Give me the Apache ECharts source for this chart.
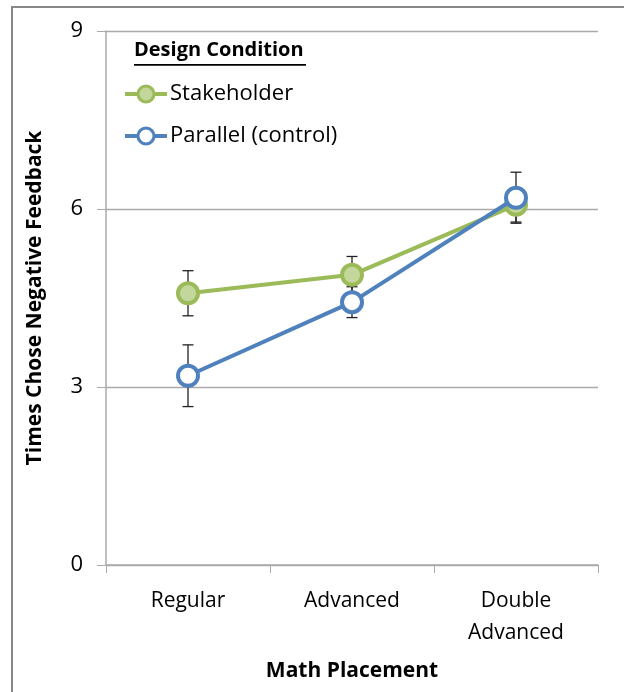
<!DOCTYPE html>
<html><head><meta charset="utf-8">
<script src="https://cdn.jsdelivr.net/npm/echarts@6/dist/echarts.min.js"></script>
<style>html,body{margin:0;padding:0;background:#fff}#c{width:624px;height:692px}</style>
</head><body><div id="c"></div>
<script>
const categories = ['Regular', 'Advanced', 'Double\nAdvanced'];
const stakeholder = [4.58, 4.89, 6.07];
const stakeholderErr = [0.38, 0.31, 0.29];
const parallel = [3.19, 4.43, 6.19];
const parallelErr = [0.52, 0.26, 0.43];
const yTicks = [0, 3, 6, 9];
const FONT = '"Open Sans", Lato, sans-serif';

function errData(vals, errs) { return vals.map((v, i) => [i, v - errs[i], v + errs[i]]); }
function renderErr(params, api) {
  const lo = api.coord([api.value(0), api.value(1)]);
  const hi = api.coord([api.value(0), api.value(2)]);
  const w = 5.5;
  const st = { stroke: '#222', lineWidth: 1.3 };
  return { type: 'group', children: [
    { type: 'line', shape: { x1: lo[0], y1: lo[1], x2: hi[0], y2: hi[1] }, style: st },
    { type: 'line', shape: { x1: lo[0]-w, y1: lo[1], x2: lo[0]+w, y2: lo[1] }, style: st },
    { type: 'line', shape: { x1: hi[0]-w, y1: hi[1], x2: hi[0]+w, y2: hi[1] }, style: st }
  ]};
}
const chart = echarts.init(document.getElementById('c'), null, { renderer: 'canvas' });
chart.setOption({
  animation: false,
  backgroundColor: '#fff',
  grid: { left: 106, right: 26, top: 31, bottom: 127 },
  xAxis: {
    type: 'category', data: categories, boundaryGap: true,
    name: 'Math Placement', nameLocation: 'middle', nameGap: 96,
    nameTextStyle: { fontFamily: FONT, fontSize: 21, fontWeight: 'bold', color: '#000' },
    axisLine: { lineStyle: { color: '#aaa', width: 1.5 } },
    axisTick: { show: true, length: 8, lineStyle: { color: '#aaa' } },
    axisLabel: { fontFamily: FONT, fontSize: 21, color: '#000', margin: 20, lineHeight: 32 }
  },
  yAxis: {
    type: 'value', min: 0, max: 9, interval: 3,
    name: 'Times Chose Negative Feedback', nameLocation: 'middle', nameGap: 60,
    nameTextStyle: { fontFamily: FONT, fontSize: 21, fontWeight: 'bold', color: '#000' },
    axisLine: { show: true, lineStyle: { color: '#aaa', width: 1.5 } },
    axisTick: { show: true, length: 9, lineStyle: { color: '#aaa' } },
    axisLabel: { fontFamily: FONT, fontSize: 22, color: '#000', margin: 23,
      formatter: v => yTicks.includes(v) ? String(v) : '' },
    splitLine: { lineStyle: { color: '#aaa', width: 1.3 } }
  },
  legend: {
    data: [
      { name: 'Stakeholder', lineStyle: { width: 4 }, itemStyle: { borderWidth: 3 } },
      { name: 'Parallel (control)', lineStyle: { width: 4 }, itemStyle: { borderWidth: 3 } }
    ],
    orient: 'vertical',
    left: 118, top: 78, itemWidth: 42, itemHeight: 20, itemGap: 20,
    textStyle: { fontFamily: FONT, fontSize: 22, color: '#000', padding: [0, 0, 0, -2] }
  },
  graphic: [
    { type: 'rect', shape: { x: 12, y: 7, width: 640, height: 720 }, style: { fill: null, stroke: '#888', lineWidth: 2 }, silent: true },
    { type: 'text', left: 134, top: 40, style: { text: 'Design Condition', fontFamily: FONT, fontSize: 20, fontWeight: 'bold', fill: '#000' } },
    { type: 'rect', shape: { x: 134, y: 64, width: 172, height: 1.8 }, style: { fill: '#000' } }
  ],
  series: [
    { type: 'custom', name: 'errS', renderItem: renderErr, data: errData(stakeholder, stakeholderErr), z: 1, encode: { x: 0, y: [1, 2] } },
    { type: 'custom', name: 'errP', renderItem: renderErr, data: errData(parallel, parallelErr), z: 1, encode: { x: 0, y: [1, 2] } },
    { type: 'line', name: 'Stakeholder', data: stakeholder, z: 3,
      symbol: 'circle', symbolSize: 20, showAllSymbol: true,
      lineStyle: { color: '#9bbb59', width: 4 },
      itemStyle: { color: '#c3d69b', borderColor: '#9bbb59', borderWidth: 4 } },
    { type: 'line', name: 'Parallel (control)', data: parallel, z: 4,
      symbol: 'circle', symbolSize: 20, showAllSymbol: true,
      lineStyle: { color: '#4f81bd', width: 4 },
      itemStyle: { color: '#ffffff', borderColor: '#4f81bd', borderWidth: 4 } }
  ]
});
</script></body></html>
